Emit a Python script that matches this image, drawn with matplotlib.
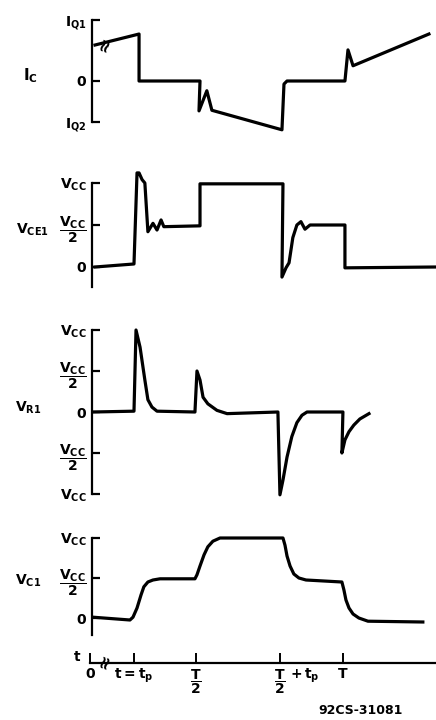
import matplotlib.pyplot as plt
from matplotlib import transforms

plt.rcParams['font.family'] = ['DejaVu Sans']
plt.rcParams['font.weight'] = 'bold'
plt.rcParams['mathtext.default'] = 'bf'

W, H = 436, 720

# time in units of the period T (axis is broken between 0 and t_p)
t_ticks = [0.0, 0.174, 0.419, 0.751, 1.0]
t_labels = ['0', r'$t=t_p$', r'$\dfrac{T}{2}$', r'$\dfrac{T}{2}$', 'T']

# collector current I_C, in units of I_Q1
ic_t = [0.020, 0.194, 0.194, 0.435, 0.431, 0.462, 0.482, 0.759, 0.767, 0.779,
        1.008, 1.020, 1.040, 1.340]
ic_v = [0.59, 0.77, 0.0, 0.0, -0.49, -0.16, -0.48, -0.80, -0.05, 0.0,
        0.0, 0.51, 0.25, 0.77]
ic_ticks = [1.0, 0.0, -0.67]
ic_labels = [r'$I_{Q1}$', '0', r'$I_{Q2}$']

# V_CE1, in units of Vcc
vce_t = [0.020, 0.174, 0.186, 0.194, 0.206, 0.217, 0.229, 0.249, 0.265, 0.281,
         0.292, 0.435, 0.435, 0.763, 0.759, 0.775, 0.787, 0.802, 0.818, 0.834,
         0.850, 0.870, 1.008, 1.008, 1.368]
vce_v = [0.0, 0.036, 1.12, 1.12, 1.04, 1.0, 0.42, 0.52, 0.44, 0.56,
         0.48, 0.49, 0.99, 0.99, -0.12, -0.01, 0.05, 0.35, 0.50, 0.54,
         0.45, 0.50, 0.50, -0.01, 0.0]

# V_R1, in units of Vcc
vr_t = [0.012, 0.174, 0.182, 0.198, 0.217, 0.229, 0.245, 0.265, 0.415, 0.423,
        0.435, 0.447, 0.466, 0.502, 0.542, 0.743, 0.751, 0.763, 0.779, 0.798,
        0.818, 0.838, 0.858, 1.0, 0.996, 1.008, 1.024, 1.043, 1.067, 1.103]
vr_v = [0.0, 0.01, 1.0, 0.79, 0.39, 0.15, 0.06, 0.01, 0.0, 0.50,
        0.39, 0.18, 0.10, 0.02, -0.02, 0.0, -1.01, -0.83, -0.55, -0.30,
        -0.13, -0.04, 0.0, 0.0, -0.50, -0.34, -0.24, -0.16, -0.085, -0.02]

# V_C1, in units of Vcc
vc_t = [0.012, 0.158, 0.170, 0.186, 0.202, 0.213, 0.229, 0.249, 0.277, 0.415,
        0.423, 0.435, 0.451, 0.466, 0.486, 0.514, 0.763, 0.771, 0.779, 0.791,
        0.806, 0.826, 0.854, 0.996, 1.004, 1.012, 1.024, 1.040, 1.063, 1.099,
        1.316]
vc_v = [0.01, -0.025, 0.01, 0.125, 0.29, 0.39, 0.45, 0.475, 0.49, 0.49,
        0.54, 0.65, 0.79, 0.89, 0.96, 1.0, 1.0, 0.91, 0.775, 0.65,
        0.55, 0.50, 0.475, 0.45, 0.35, 0.225, 0.125, 0.05, 0.0, -0.04,
        -0.05]

vcc = r'$V_{CC}$'
vcc2 = r'$\dfrac{V_{CC}}{2}$'

fig = plt.figure(figsize=(W / 100, H / 100), dpi=100)


def panel(top, bottom, zero, scale, ticks, labels, lo):
    # one waveform strip, with the bracket-like axis on the left
    ax = fig.add_axes([92 / W, 1 - bottom / H, (W - 92) / W, (bottom - top) / H])
    ax.set_xlim(0.008, 1.368)
    ax.set_ylim((zero - bottom) / scale, (zero - top) / scale)
    for s in ['top', 'right', 'bottom']:
        ax.spines[s].set_visible(False)
    ax.spines['left'].set_linewidth(1.6)
    ax.spines['left'].set_bounds(lo, max(ticks))
    ax.set_xticks([])
    ax.set_yticks(ticks)
    ax.set_yticklabels(labels)
    ax.tick_params(axis='y', direction='in', length=5.5, width=1.6, pad=4,
                   labelsize=10)
    ax.patch.set_alpha(0)
    return ax


ax1 = panel(5, 140, 81, 61, ic_ticks, ic_labels, -0.67)
ax1.plot(ic_t, ic_v, color='black', lw=2.3, solid_joinstyle='round')
ax1.text(0.06, 0.60, '≈', rotation=70, ha='center', va='center', fontsize=13)

ax2 = panel(160, 295, 267, 84, [1.0, 0.5, 0.0], [vcc, vcc2, '0'], -0.24)
ax2.plot(vce_t, vce_v, color='black', lw=2.3, solid_joinstyle='round')

ax3 = panel(318, 505, 412, 82, [1.0, 0.5, 0.0, -0.5, -1.0],
            [vcc, vcc2, '0', vcc2, vcc], -1.0)
ax3.plot(vr_t, vr_v, color='black', lw=2.3, solid_joinstyle='round')

ax4 = panel(525, 640, 618, 80, [1.0, 0.5, 0.0], [vcc, vcc2, '0'], -0.21)
ax4.plot(vc_t, vc_v, color='black', lw=2.3, solid_joinstyle='round')

# signal names
fig.text(30 / W, 1 - 76 / H, r'$I_C$', ha='center', va='center', fontsize=11)
fig.text(32 / W, 1 - 230 / H, r'$V_{CE1}$', ha='center', va='center', fontsize=10)
fig.text(28 / W, 1 - 408 / H, r'$V_{R1}$', ha='center', va='center', fontsize=10)
fig.text(28 / W, 1 - 581 / H, r'$V_{C1}$', ha='center', va='center', fontsize=10)

# time axis
axt = fig.add_axes([90 / W, 1 - 663 / H, (W - 90) / W, 20 / H])
axt.set_xlim(0, 1.368)
axt.set_ylim(0, 1)
for s in ['top', 'right', 'left']:
    axt.spines[s].set_visible(False)
axt.spines['bottom'].set_linewidth(1.6)
axt.set_yticks([])
axt.set_xticks(t_ticks)
axt.set_xticklabels(t_labels)
axt.tick_params(axis='x', direction='in', length=7, width=1.4, pad=3,
                labelsize=10)
axt.patch.set_alpha(0)
axt.text(0.06, 0.05, '≈', rotation=70, ha='center', va='center', fontsize=13)
off = transforms.ScaledTranslation(7 / 72, 0, fig.dpi_scale_trans)
axt.text(t_ticks[3], -0.2, r'$+\,t_p$', ha='left', va='top', fontsize=10,
         transform=axt.get_xaxis_transform() + off)
fig.text(77 / W, 1 - 657 / H, 't', ha='center', va='center', fontsize=10)

fig.text(361 / W, 1 - 710 / H, '92CS-31081', ha='center', va='center',
         fontsize=9)

fig.savefig('out.png', dpi=100, facecolor='white')
